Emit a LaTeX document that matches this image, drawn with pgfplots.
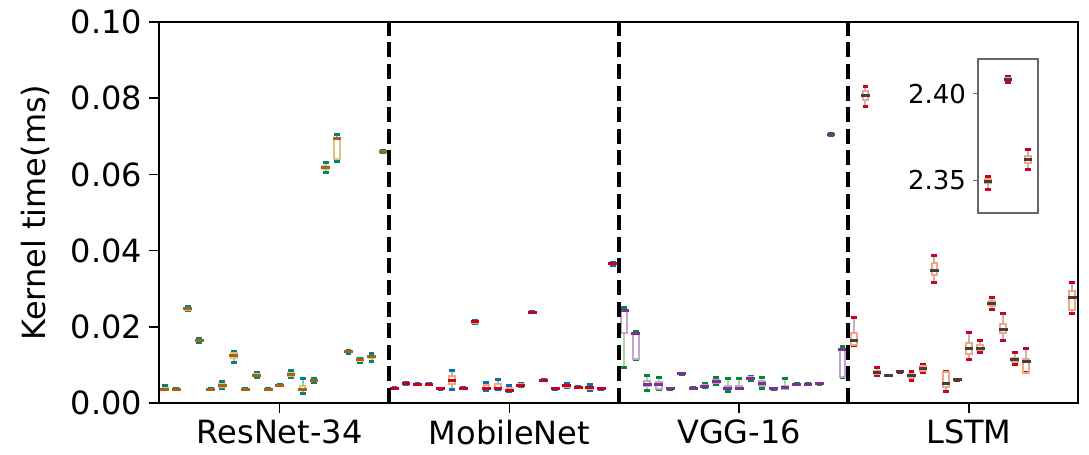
\documentclass[border=0pt]{standalone}
\usepackage{fontspec}
\setmainfont{DejaVu Sans}
\usepackage{pgfplots}
\usepackage{pgfplotstable}
\pgfplotsset{compat=1.18}
\usepgfplotslibrary{statistics}

% ColorBrewer diverging palettes, one per network
\definecolor{rnMed}{HTML}{A6611A}\definecolor{rnBox}{HTML}{DFC27D}
\definecolor{rnWh}{HTML}{80CDC1}\definecolor{rnCap}{HTML}{018571}
\definecolor{mbMed}{HTML}{CA0020}\definecolor{mbBox}{HTML}{F4A582}
\definecolor{mbWh}{HTML}{92C5DE}\definecolor{mbCap}{HTML}{0571B0}
\definecolor{vgMed}{HTML}{7B3294}\definecolor{vgBox}{HTML}{C2A5CF}
\definecolor{vgWh}{HTML}{A6DBA0}\definecolor{vgCap}{HTML}{008837}
\definecolor{lsMed}{HTML}{404040}\definecolor{lsBox}{HTML}{F4A582}
\definecolor{lsWh}{HTML}{BABABA}\definecolor{lsCap}{HTML}{CA0020}

\newcommand\bigfont{\fontsize{16}{19}\selectfont}
\newcommand\smallfont{\fontsize{13}{15.5}\selectfont}

% per-kernel statistics: lower whisker, quartiles, median, upper whisker (ms)
\pgfplotstableread{
lw q1 med q3 uw
0.0035 0.0035 0.0036 0.0040 0.0046
0.0035 0.0036 0.0036 0.0036 0.0037
0.0242 0.0245 0.0247 0.0249 0.0252
0.0159 0.0163 0.0165 0.0166 0.0170
0.0035 0.0035 0.0036 0.0037 0.0037
0.0037 0.0042 0.0046 0.0050 0.0057
0.0105 0.0117 0.0125 0.0130 0.0136
0.0035 0.0036 0.0036 0.0036 0.0037
0.0067 0.0071 0.0073 0.0075 0.0079
0.0035 0.0036 0.0036 0.0036 0.0037
0.0045 0.0046 0.0047 0.0047 0.0048
0.0066 0.0072 0.0076 0.0079 0.0086
0.0025 0.0033 0.0036 0.0045 0.0064
0.0054 0.0057 0.0059 0.0060 0.0064
0.0605 0.0613 0.0618 0.0622 0.0632
0.0635 0.0641 0.0693 0.0696 0.0705
0.0131 0.0133 0.0134 0.0135 0.0137
0.0105 0.0111 0.0113 0.0115 0.0118
0.0110 0.0117 0.0121 0.0124 0.0129
0.0658 0.0660 0.0661 0.0662 0.0664
}\resnet

\pgfplotstableread{
lw q1 med q3 uw
0.0037 0.0038 0.0039 0.0040 0.0041
0.0049 0.0051 0.0052 0.0053 0.0054
0.0048 0.0049 0.0049 0.0049 0.0050
0.0048 0.0049 0.0049 0.0049 0.0050
0.0035 0.0036 0.0037 0.0037 0.0038
0.0036 0.0050 0.0060 0.0072 0.0085
0.0038 0.0039 0.0039 0.0040 0.0040
0.0209 0.0211 0.0213 0.0214 0.0216
0.0034 0.0036 0.0037 0.0046 0.0053
0.0035 0.0036 0.0037 0.0049 0.0062
0.0030 0.0033 0.0034 0.0040 0.0046
0.0042 0.0046 0.0047 0.0049 0.0052
0.0237 0.0238 0.0238 0.0238 0.0239
0.0059 0.0060 0.0060 0.0060 0.0061
0.0036 0.0037 0.0038 0.0038 0.0039
0.0041 0.0043 0.0045 0.0047 0.0051
0.0040 0.0041 0.0041 0.0041 0.0042
0.0034 0.0038 0.0041 0.0043 0.0049
0.0036 0.0037 0.0038 0.0039 0.0039
0.0362 0.0364 0.0365 0.0366 0.0368
}\mobilenet

\pgfplotstableread{
lw q1 med q3 uw
0.0094 0.0185 0.0242 0.0243 0.0251
0.0115 0.0116 0.0182 0.0183 0.0187
0.0033 0.0045 0.0049 0.0058 0.0072
0.0036 0.0038 0.0048 0.0054 0.0066
0.0035 0.0036 0.0037 0.0037 0.0038
0.0076 0.0077 0.0077 0.0077 0.0078
0.0038 0.0039 0.0039 0.0039 0.0040
0.0040 0.0041 0.0043 0.0046 0.0050
0.0049 0.0053 0.0057 0.0061 0.0067
0.0029 0.0036 0.0039 0.0044 0.0065
0.0037 0.0038 0.0039 0.0045 0.0063
0.0058 0.0062 0.0065 0.0067 0.0070
0.0039 0.0045 0.0050 0.0057 0.0067
0.0036 0.0037 0.0038 0.0038 0.0039
0.0037 0.0038 0.0040 0.0045 0.0064
0.0048 0.0049 0.0049 0.0049 0.0050
0.0048 0.0049 0.0049 0.0049 0.0050
0.0049 0.0049 0.0050 0.0050 0.0051
0.0702 0.0704 0.0705 0.0706 0.0708
0.0066 0.0067 0.0141 0.0142 0.0148
}\vgg

\pgfplotstableread{
lw q1 med q3 uw
0.0150 0.0152 0.0163 0.0185 0.0225
0.0778 0.0796 0.0808 0.0820 0.0830
0.0071 0.0076 0.0081 0.0085 0.0093
0.0071 0.0072 0.0072 0.0072 0.0073
0.0081 0.0082 0.0082 0.0082 0.0083
0.0060 0.0065 0.0071 0.0076 0.0082
0.0080 0.0084 0.0091 0.0096 0.0102
0.0317 0.0336 0.0349 0.0368 0.0388
0.0030 0.0041 0.0051 0.0082 0.0082
0.0059 0.0060 0.0061 0.0061 0.0062
0.0115 0.0129 0.0143 0.0157 0.0185
0.0132 0.0139 0.0144 0.0151 0.0164
0.0245 0.0254 0.0260 0.0267 0.0277
0.0163 0.0183 0.0194 0.0207 0.0235
0.0102 0.0108 0.0113 0.0117 0.0133
0.0080 0.0080 0.0108 0.0115 0.0144
2.3446 2.3482 2.3494 2.3508 2.3519
2.4066 2.4076 2.4083 2.4090 2.4101
2.3563 2.3600 2.3619 2.3638 2.3677
0.0235 0.0244 0.0277 0.0295 0.0316
}\lstm

\pgfplotsset{
  % whisker line and end cap drawn with separate styles
  /pgfplots/boxplot/every cap/.style={},
  /pgfplots/boxplot/draw/lower whisker/.code={%
    \draw[/pgfplots/boxplot/every whisker/.try]
      (boxplot box cs:\pgfplotsboxplotvalue{lower whisker},0.5) --
      (boxplot box cs:\pgfplotsboxplotvalue{lower quartile},0.5);
    \draw[/pgfplots/boxplot/every cap/.try]
      (boxplot whisker cs:\pgfplotsboxplotvalue{lower whisker},0) --
      (boxplot whisker cs:\pgfplotsboxplotvalue{lower whisker},1);
  },
  /pgfplots/boxplot/draw/upper whisker/.code={%
    \draw[/pgfplots/boxplot/every whisker/.try]
      (boxplot box cs:\pgfplotsboxplotvalue{upper quartile},0.5) --
      (boxplot box cs:\pgfplotsboxplotvalue{upper whisker},0.5);
    \draw[/pgfplots/boxplot/every cap/.try]
      (boxplot whisker cs:\pgfplotsboxplotvalue{upper whisker},0) --
      (boxplot whisker cs:\pgfplotsboxplotvalue{upper whisker},1);
  },
  boxgroup/.style n args={4}{%
    /pgfplots/boxplot/every median/.style={draw=#1, line width=1.5pt, line cap=rect},
    /pgfplots/boxplot/every box/.style={draw=#2, line width=1pt},
    /pgfplots/boxplot/every whisker/.style={draw=#3, line width=1pt},
    /pgfplots/boxplot/every cap/.style={draw=#4, line width=1.5pt, line cap=rect},
  },
  rnbox/.style={boxgroup={rnMed}{rnBox}{rnWh}{rnCap}},
  mbbox/.style={boxgroup={mbMed}{mbBox}{mbWh}{mbCap}},
  vgbox/.style={boxgroup={vgMed}{vgBox}{vgWh}{vgCap}},
  lsbox/.style={boxgroup={lsMed}{lsBox}{lsWh}{lsCap}},
}

% one box from row #2 of table #1, at x = #3, in style #4
\newcommand\drawbox[4]{%
  \pgfplotstablegetelem{#2}{lw}\of#1\let\bxLW\pgfplotsretval
  \pgfplotstablegetelem{#2}{q1}\of#1\let\bxQA\pgfplotsretval
  \pgfplotstablegetelem{#2}{med}\of#1\let\bxMD\pgfplotsretval
  \pgfplotstablegetelem{#2}{q3}\of#1\let\bxQB\pgfplotsretval
  \pgfplotstablegetelem{#2}{uw}\of#1\let\bxUW\pgfplotsretval
  \edef\bxnext{\noexpand\addplot[boxplot prepared={draw position=\the\numexpr#3\relax,
      lower whisker=\bxLW, lower quartile=\bxQA, median=\bxMD,
      upper quartile=\bxQB, upper whisker=\bxUW}, #4] coordinates {};}%
  \bxnext
}

\begin{document}
\begin{tikzpicture}
\begin{axis}[
  name=main,
  scale only axis, width=459.5pt, height=190.5pt,
  xmin=0.5, xmax=80.5, ymin=0, ymax=0.1,
  xtick={11,31,51,71},
  xticklabels={ResNet-34,MobileNet,VGG-16,LSTM},
  ytick={0,0.02,0.04,0.06,0.08,0.1},
  scaled y ticks=false,
  yticklabel={\pgfmathprintnumber[fixed,fixed zerofill,precision=2]{\tick}},
  /pgf/number format/assume math mode=true,
  tick pos=left, tick align=outside,
  major tick length=5pt,
  tick style={black, line width=0.8pt},
  axis line style={black, line width=0.9pt},
  tick label style={font=\bigfont},
  ylabel={Kernel time(ms)},
  ylabel style={font=\bigfont, at={(axis description cs:-0.1186,0.5)}, anchor=south, inner sep=0pt},
  boxplot/draw direction=y,
  boxplot/box extend=0.5,
  boxplot/whisker extend=0.25,
]
\pgfplotsinvokeforeach{0,...,19}{\drawbox{\resnet}{#1}{#1+1}{rnbox}}
\pgfplotsinvokeforeach{0,...,19}{\drawbox{\mobilenet}{#1}{#1+21}{mbbox}}
\pgfplotsinvokeforeach{0,...,19}{\drawbox{\vgg}{#1}{#1+41}{vgbox}}
\pgfplotsinvokeforeach{0,...,15,19}{\drawbox{\lstm}{#1}{#1+61}{lsbox}}
% network separators
\addplot[black, line width=2pt, dash pattern=on 7.5pt off 3.3pt] coordinates {(20.5,0) (20.5,0.1)};
\addplot[black, line width=2pt, dash pattern=on 7.5pt off 3.3pt] coordinates {(40.5,0) (40.5,0.1)};
\addplot[black, line width=2pt, dash pattern=on 7.5pt off 3.3pt] coordinates {(60.5,0) (60.5,0.1)};
\end{axis}
% inset for the three slow LSTM kernels
\begin{axis}[
  at={(main.north west)}, anchor=north west, xshift=409.5pt, yshift=-18.5pt,
  scale only axis, width=30pt, height=77pt,
  xmin=0.5, xmax=3.5, ymin=2.331, ymax=2.420,
  xtick=\empty, ytick={2.35,2.40},
  yticklabel={\pgfmathprintnumber[fixed,fixed zerofill,precision=2]{\tick}},
  /pgf/number format/assume math mode=true,
  tick pos=left, tick align=outside,
  major tick length=2.5pt,
  tick style={black!60, line width=0.6pt},
  axis line style={black!60, line width=0.7pt},
  tick label style={font=\smallfont},
  boxplot/draw direction=y,
  boxplot/box extend=0.29,
  boxplot/whisker extend=0.145,
]
\pgfplotsinvokeforeach{16,17,18}{\drawbox{\lstm}{#1}{#1-15}{lsbox}}
\end{axis}
\pgfresetboundingbox
\path[use as bounding box] ([xshift=-79.5pt,yshift=-25.5pt]main.south west) rectangle ([xshift=5.5pt,yshift=11pt]main.north east);
\end{tikzpicture}
\end{document}
